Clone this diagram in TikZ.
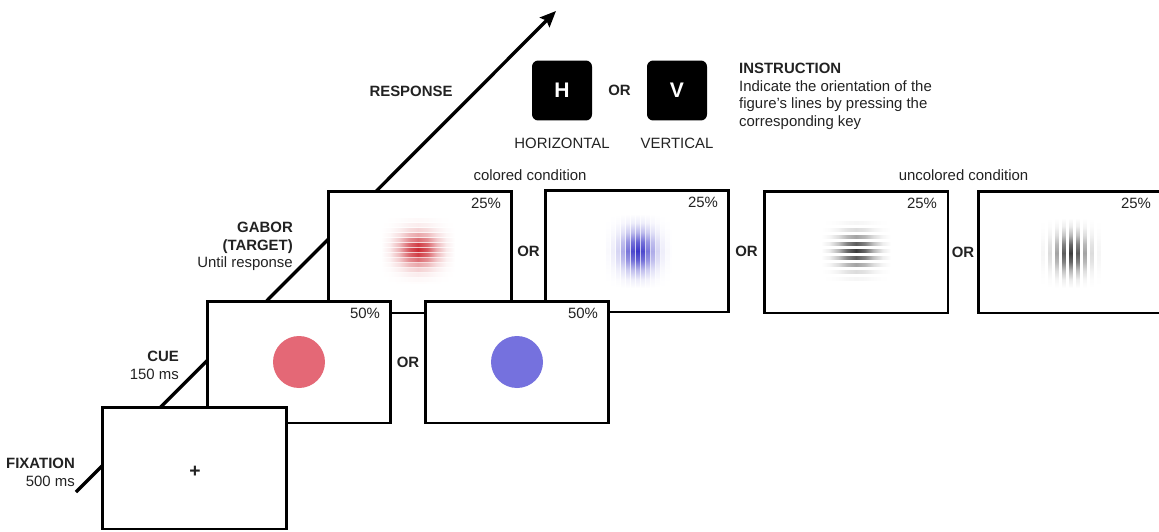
\documentclass[tikz,border=0pt]{standalone}
\usepackage{fontspec}
\setmainfont{Liberation Sans}
\usepackage{tikz}
\usetikzlibrary{arrows.meta, calc}
\usepackage{xcolor}
\definecolor{cuered}{HTML}{E46876}
\definecolor{cueblue}{HTML}{7571DE}
\definecolor{gabred}{HTML}{CC2A33}
\definecolor{gabblue}{HTML}{3B36C8}
\definecolor{gabgray}{HTML}{2A2A2A}
\definecolor{txtgray}{HTML}{222222}
\colorlet{stripecol}{black}

% Gaussian fall-off along one stripe
\pgfdeclarehorizontalshading[stripecol]{gaussh}{100bp}{color(0bp)=(white); color(25bp)=(white);
    color(31bp)=(stripecol!10!white); color(37.5bp)=(stripecol!37!white); color(43.75bp)=(stripecol!78!white);
    color(50bp)=(stripecol); color(56.25bp)=(stripecol!78!white); color(62.5bp)=(stripecol!37!white);
    color(69bp)=(stripecol!10!white); color(75bp)=(white); color(100bp)=(white)}
\pgfdeclareverticalshading[stripecol]{gaussv}{100bp}{color(0bp)=(white); color(25bp)=(white);
    color(31bp)=(stripecol!10!white); color(37.5bp)=(stripecol!37!white); color(43.75bp)=(stripecol!78!white);
    color(50bp)=(stripecol); color(56.25bp)=(stripecol!78!white); color(62.5bp)=(stripecol!37!white);
    color(69bp)=(stripecol!10!white); color(75bp)=(white); color(100bp)=(white)}

\begin{document}
\begin{tikzpicture}[
    x=0.02cm, y=-0.02cm,
    every node/.style={font=\fontsize{8.5}{10}\selectfont, text=txtgray},
    screen/.style={draw=black, fill=white, line width=1.7pt,
                   minimum width=3.68cm, minimum height=2.44cm, inner sep=0pt},
    pct/.style={anchor=north east, inner sep=1pt, xshift=-5.9pt, yshift=-3.4pt},
    orlbl/.style={font=\fontsize{8.5}{10}\selectfont\bfseries, inner sep=1pt},
    phase/.style={anchor=north east, align=right},
    cuedot/.style={circle, minimum size=1.04cm, inner sep=0pt},
    keybox/.style={fill=black, rounded corners=3.5pt, minimum size=1.2cm, inner sep=0pt,
                   text=white, font=\fontsize{12}{14}\selectfont\bfseries},
    cond/.style={inner sep=1pt},
    timeline/.style={line width=1.9pt, -{Stealth[length=0.32cm, width=0.27cm, inset=0.05cm]}}
]
    \useasboundingbox (0,0) rectangle (1159,531);
    \clip (0,0) rectangle (1159,531);

    % Time axis, drawn first so the screens cover it
    \coordinate (tstart) at (76,492);
    \coordinate (tend) at (556,11);
    \draw[timeline] (tstart) -- (tend);

    % Gabor screens (target)
    \node[screen] (g1) at (420,252) {};
    \node[screen] (g2) at (637,251) {};
    \node[screen] (g3) at (856,252) {};
    \node[screen] (g4) at (1070,252) {};

    \node[pct] (p1) at (g1.north east) {25\%};
    \node[pct] (p2) at (g2.north east) {25\%};
    \node[pct] (p3) at (g3.north east) {25\%};
    \node[pct] (p4) at (g4.north east) {25\%};

    \node[orlbl] (or1) at ($(g1.east)!0.5!(g2.west)$) {OR};
    \node[orlbl] (or2) at ($(g2.east)!0.5!(g3.west)$) {OR};
    \node[orlbl] (or3) at ($(g3.east)!0.5!(g4.west)$) {OR};

    % Red patch, horizontal lines
    \begin{scope}[shift={(418,251)}]
        \foreach \k in {-6,...,6} {
            \pgfmathsetmacro{\amp}{100*exp(-((\k*5)/16)^2)}
            \colorlet{stripecol}{gabred!\amp!white}
            \shade[shading=gaussh] (-37,\k*5-2.5) rectangle (37,\k*5+2.5);
            \colorlet{stripecol}{gabred!\amp!white!30!white}
            \shade[shading=gaussh] (-37,\k*5+1.1) rectangle (37,\k*5+2.5);
        }
    \end{scope}

    % Blue patch, vertical lines
    \begin{scope}[shift={(639,251)}]
        \foreach \k in {-6,...,6} {
            \pgfmathsetmacro{\amp}{100*exp(-((\k*5)/16)^2)}
            \colorlet{stripecol}{gabblue!\amp!white}
            \shade[shading=gaussv] (\k*5-2.5,-37) rectangle (\k*5+2.5,37);
            \colorlet{stripecol}{gabblue!\amp!white!30!white}
            \shade[shading=gaussv] (\k*5+1.1,-37) rectangle (\k*5+2.5,37);
        }
    \end{scope}

    % Gray patch, horizontal lines
    \begin{scope}[shift={(856,251)}]
        \foreach \k in {-4,...,4} {
            \pgfmathsetmacro{\amp}{92*exp(-((\k*7)/16)^2)}
            \colorlet{stripecol}{gabgray!\amp!white}
            \shade[shading=gaussh] (-35,\k*7-1.9) rectangle (35,\k*7+1.9);
        }
    \end{scope}

    % Gray patch, vertical lines
    \begin{scope}[shift={(1071,253)}]
        \foreach \k in {-4,...,4} {
            \pgfmathsetmacro{\amp}{92*exp(-((\k*7)/16)^2)}
            \colorlet{stripecol}{gabgray!\amp!white}
            \shade[shading=gaussv] (\k*7-1.9,-35) rectangle (\k*7+1.9,35);
        }
    \end{scope}

    % Cue screens
    \node[screen] (c1) at (299,362) {};
    \node[screen] (c2) at (517,362) {};
    \node[cuedot, fill=cuered] (d1) at (c1.center) {};
    \node[cuedot, fill=cueblue] (d2) at (c2.center) {};
    \node[pct] (p5) at (c1.north east) {50\%};
    \node[pct] (p6) at (c2.north east) {50\%};
    \node[orlbl] (or4) at ($(c1.east)!0.5!(c2.west)$) {OR};

    % Fixation screen
    \node[screen] (fx) at (194.5,468) {};
    \node[orlbl, font=\fontsize{11}{13}\selectfont\bfseries] (cross) at (195,472) {+};

    % Phase labels along the time axis
    \node[phase] (fixlbl) at (81,452) {\textbf{FIXATION}\\500 ms};
    \node[phase] (cuelbl) at (185,345) {\textbf{CUE}\\150 ms};
    \node[phase] (gablbl) at (299,216) {\textbf{GABOR}\\\textbf{(TARGET)}\\Until response};
    \node[orlbl] (resplbl) at (411,91) {RESPONSE};

    % Response keys
    \node[keybox] (hkey) at (562,90.5) {H};
    \node[keybox] (vkey) at (677,90.5) {V};
    \node[orlbl] (or5) at ($(hkey.east)!0.5!(vkey.west)$) {OR};
    \node[cond] (hname) at (562,143) {HORIZONTAL};
    \node[cond] (vname) at (677,143) {VERTICAL};

    \node[anchor=north west, align=left] (instr) at (733,57)
        {\textbf{INSTRUCTION}\\Indicate the orientation of the\\figure’s lines by pressing the\\corresponding key};

    % Condition headers
    \node[cond] (colcond) at (530,175) {colored condition};
    \node[cond] (uncolcond) at (963.5,175) {uncolored condition};
\end{tikzpicture}
\end{document}
